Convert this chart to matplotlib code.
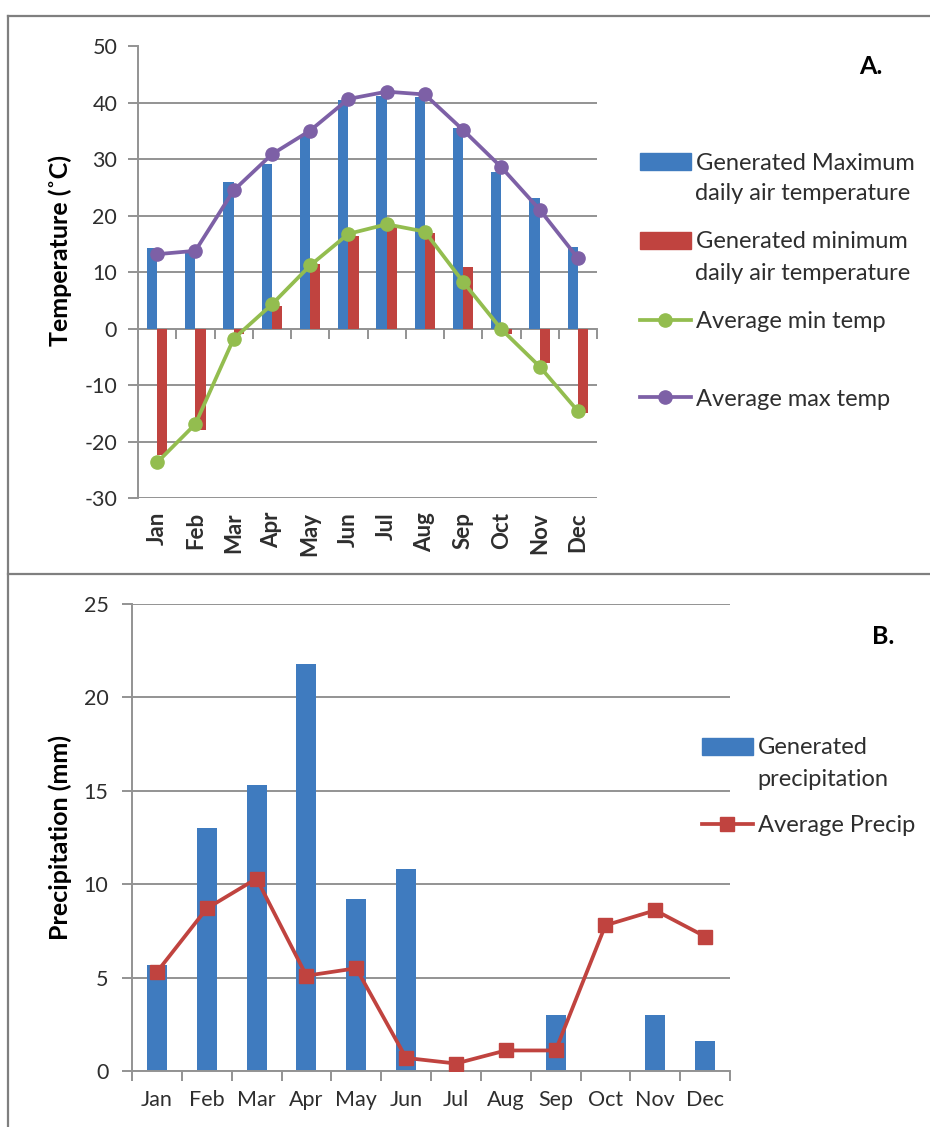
import matplotlib as mpl
mpl.use('Agg')
import matplotlib.pyplot as plt
from matplotlib.lines import Line2D
from matplotlib.patches import Patch
import numpy as np

plt.rcParams['font.family'] = ['Lato', 'DejaVu Sans']
plt.rcParams['axes.unicode_minus'] = False

meses = ['Jan', 'Feb', 'Mar', 'Apr', 'May', 'Jun', 'Jul', 'Aug', 'Sep', 'Oct', 'Nov', 'Dec']

# temperaturas (C)
tmax_gerada = [14.3, 13.8, 26.0, 29.1, 34.1, 40.6, 41.3, 41.0, 35.5, 27.7, 23.2, 14.4]
tmin_gerada = [-22.4, -18.0, -0.9, 4.0, 11.5, 16.5, 18.0, 16.9, 10.9, -1.0, -6.0, -14.9]
tmin_media = [-23.7, -16.9, -1.8, 4.3, 11.2, 16.8, 18.5, 17.2, 8.3, -0.1, -6.7, -14.6]
tmax_media = [13.2, 13.8, 24.5, 30.9, 35.1, 40.7, 42.0, 41.5, 35.2, 28.6, 21.1, 12.5]

# precipitacao (mm)
precip_gerada = [5.7, 13.0, 15.3, 21.8, 9.2, 10.8, 0, 0, 3.0, 0, 3.0, 1.6]
precip_media = [5.3, 8.7, 10.3, 5.1, 5.5, 0.7, 0.4, 1.1, 1.1, 7.8, 8.6, 7.2]

AZUL = '#3f7bbf'
VERMELHO = '#c0433f'
VERDE = '#93bd4f'
ROXO = '#7d60a6'
CINZA = '#939393'
TEXTO = '#2e2e2e'
LW = 2.7
MS = 9.5

W, H = 930, 1127


def fx(px):
    return px / W


def fy(py):
    return 1 - py / H


fig = plt.figure(figsize=(W / 100, H / 100), dpi=100)
x = np.arange(len(meses))

# ---- A. temperatura ----
ax1 = fig.add_axes([fx(138), fy(498), fx(597) - fx(138), fy(46.5) - fy(498)])
w = 0.27
ax1.bar(x - w / 2, tmax_gerada, w, color=AZUL, zorder=2)
ax1.bar(x + w / 2, tmin_gerada, w, color=VERMELHO, zorder=2)
ax1.plot(x, tmin_media, color=VERDE, lw=LW, marker='o', ms=MS, zorder=4)
ax1.plot(x, tmax_media, color=ROXO, lw=LW, marker='o', ms=MS, zorder=4)

ax1.set_xlim(-0.5, 11.5)
ax1.set_ylim(-30, 50)
ax1.set_yticks(range(-30, 51, 10))
ax1.yaxis.grid(True, color=CINZA, lw=1.4)
ax1.set_axisbelow(True)
for s in ['top', 'right', 'bottom']:
    ax1.spines[s].set_visible(False)
ax1.spines['left'].set_color(CINZA)
ax1.spines['left'].set_linewidth(1.4)
ax1.tick_params(axis='y', direction='out', length=7, width=1.4, color=CINZA,
                labelsize=15.5, labelcolor=TEXTO, pad=8)
ax1.set_xticks(x, meses, rotation=90, fontweight='bold', fontsize=16, color=TEXTO)
ax1.tick_params(axis='x', length=0, pad=10)

# eixo horizontal no zero
eixo0 = ax1.secondary_xaxis(30 / 80)
eixo0.set_xticks(np.arange(-0.5, 12, 1), [''] * 13)
eixo0.tick_params(direction='out', length=7, width=1.4, color=CINZA)
eixo0.spines['bottom'].set_color(CINZA)
eixo0.spines['bottom'].set_linewidth(1.4)

fig.text(fx(60), fy(250), 'Temperature (˚C)', rotation=90, ha='center', va='center',
         fontsize=18, fontweight='bold', color='black')
fig.text(fx(871), fy(66), 'A.', ha='center', va='center', fontsize=18, fontweight='bold')

# ---- B. precipitacao ----
ax2 = fig.add_axes([fx(132), fy(1071), fx(730) - fx(132), fy(604) - fy(1071)])
ax2.bar(x, precip_gerada, 0.4, color=AZUL, zorder=2)
ax2.plot(x, precip_media, color=VERMELHO, lw=LW, marker='s', ms=MS, zorder=4)

ax2.set_xlim(-0.5, 11.5)
ax2.set_ylim(0, 25)
ax2.set_yticks(range(0, 26, 5))
ax2.yaxis.grid(True, color=CINZA, lw=1.4)
ax2.set_axisbelow(True)
for s in ['top', 'right']:
    ax2.spines[s].set_visible(False)
for s in ['left', 'bottom']:
    ax2.spines[s].set_color(CINZA)
    ax2.spines[s].set_linewidth(1.4)
ax2.tick_params(axis='y', direction='out', length=7, width=1.4, color=CINZA,
                labelsize=15.5, labelcolor=TEXTO, pad=10)
ax2.set_xticks(x, meses, fontsize=15.5, color=TEXTO)
ax2.set_xticks(np.arange(-0.5, 12, 1), minor=True)
ax2.tick_params(axis='x', which='major', length=0, pad=14)
ax2.tick_params(axis='x', which='minor', direction='out', length=7, width=1.4, color=CINZA)

fig.text(fx(60), fy(838), 'Precipitation (mm)', rotation=90, ha='center', va='center',
         fontsize=18, fontweight='bold', color='black')
fig.text(fx(883), fy(637), 'B.', ha='center', va='center', fontsize=18, fontweight='bold')


# ---- legendas ----
def entrada(handle, linha1, linha2, x0, y0):
    fig.legend(handles=[handle], labels=[linha1], loc='center left',
               bbox_to_anchor=(fx(x0), fy(y0)), frameon=False, borderpad=0,
               borderaxespad=0, handlelength=2.15, handletextpad=0.22,
               prop={'size': 17}, labelcolor=TEXTO)
    if linha2:
        fig.text(fx(x0 + 55), fy(y0 + 31), linha2, va='center', fontsize=17, color=TEXTO)


entrada(Patch(color=AZUL), 'Generated Maximum', 'daily air temperature', 640, 163)
entrada(Patch(color=VERMELHO), 'Generated minimum', 'daily air temperature', 640, 242)
entrada(Line2D([], [], color=VERDE, lw=LW, marker='o', ms=MS), 'Average min temp', None, 640, 322)
entrada(Line2D([], [], color=ROXO, lw=LW, marker='o', ms=MS), 'Average max temp', None, 640, 399)
entrada(Patch(color=AZUL), 'Generated', 'precipitation', 702, 748)
entrada(Line2D([], [], color=VERMELHO, lw=LW, marker='s', ms=MS), 'Average Precip', None, 702, 826)

# molduras dos paineis
for xs, ys in [([fx(8), 1], [fy(16), fy(16)]),
               ([fx(8), fx(8)], [0, fy(16)]),
               ([fx(8), 1], [fy(574), fy(574)])]:
    fig.add_artist(Line2D(xs, ys, transform=fig.transFigure, color='#7f7f7f', lw=1.6))

fig.savefig('out.png', dpi=100)
